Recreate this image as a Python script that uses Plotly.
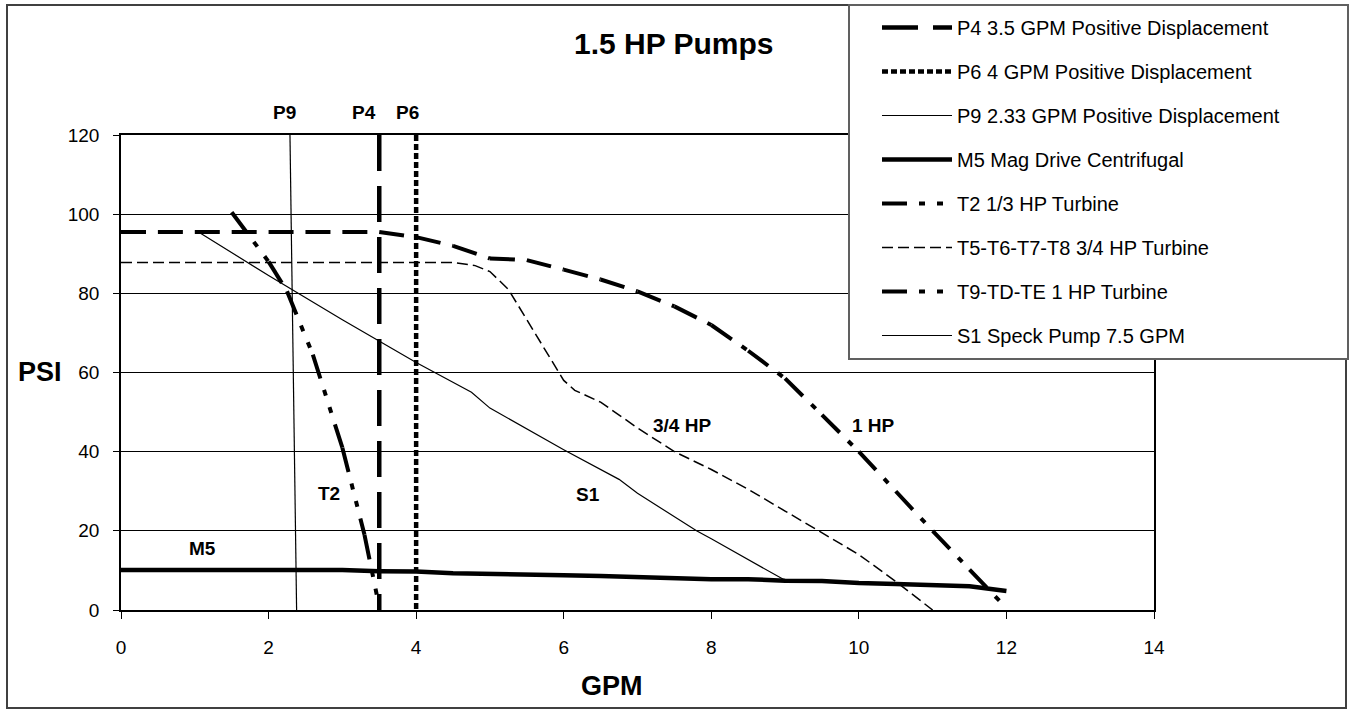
import plotly.graph_objects as go

# ---------------- data ----------------
x_ticks = [0, 2, 4, 6, 8, 10, 12, 14]
y_ticks = [0, 20, 40, 60, 80, 100, 120]

p4_x = [3.5, 3.5]
p4_y = [120, 0]

p6_x = [4.0, 4.0]
p6_y = [120, 0]

p9_x = [2.29, 2.38]
p9_y = [120, 0]

m5_x = [0, 0.5, 1, 1.5, 2, 2.5, 3, 3.5, 4, 4.5, 5, 5.5, 6, 6.5, 7, 7.5, 8, 8.5, 9, 9.5, 10, 10.5, 11, 11.5, 12]
m5_y = [10.1, 10.1, 10.1, 10.1, 10.1, 10.1, 10.1, 9.8, 9.7, 9.3, 9.2, 9.1, 8.8, 8.6, 8.3, 8.2, 7.8, 7.8, 7.4, 7.3, 6.8, 6.6, 6.3, 6.0, 4.8]

t2_x = [1.5, 2.0, 2.25, 2.6, 3.0, 3.3, 3.47]
t2_y = [100.5, 88, 80.5, 64.5, 41, 19, 3.5]

t5_x = [0, 4.5, 4.8, 5.0, 5.25, 5.9, 6.0, 6.15, 6.5, 7.0, 7.5, 8.0, 8.5, 9.0, 9.5, 10.0, 10.5, 11.0]
t5_y = [87.8, 87.8, 87, 85.5, 81, 61, 58, 55.5, 52.5, 46, 40, 35.5, 30.5, 25, 19.5, 14, 7.2, 0]

t9_x = [0, 0.5, 1, 1.5, 2, 2.5, 3, 3.5, 4, 4.5, 5, 5.5, 6, 6.5, 7, 7.5, 8, 8.5, 9, 9.5, 10, 10.5, 11, 11.5, 12]
t9_y = [95.5, 95.5, 95.5, 95.5, 95.5, 95.5, 95.5, 95.5, 94.2, 92, 88.8, 88.4, 86, 83.5, 80.5, 76.7, 72, 65.5, 58.5, 49.3, 40, 30, 20, 10.2, 0.5]

s1_x = [1.05, 2, 3, 4, 4.75, 5, 6, 6.75, 7, 7.8, 8, 9]
s1_y = [95.5, 84.5, 73.3, 62.5, 55, 51, 40.5, 33, 29.5, 20, 18, 7.5]

names = [
    "P4 3.5 GPM Positive Displacement",
    "P6 4 GPM Positive Displacement",
    "P9 2.33 GPM Positive Displacement",
    "M5 Mag Drive Centrifugal",
    "T2 1/3 HP Turbine",
    "T5-T6-T7-T8 3/4 HP Turbine",
    "T9-TD-TE 1 HP Turbine",
    "S1 Speck Pump 7.5 GPM",
]

# labels above the plot (paper y) and inside the plot (data y)
top_label_text = ["P9", "P4", "P6"]
top_label_x = [2.21, 3.29, 3.88]
in_label_text = ["M5", "T2", "S1", "3/4 HP", "1 HP"]
in_label_x = [1.1, 2.82, 6.33, 7.6, 10.2]
in_label_y = [15.6, 29.5, 29.3, 46.5, 46.7]

# ---------------- figure ----------------
W, H = 1351, 711
L, R, T, B = 121, 197, 135, 101
PW, PH = W - L - R, H - T - B


def px(xp):
    return (xp - L) / PW


def py(yp):
    return (H - B - yp) / PH


fig = go.Figure()
DDD = "25px,12px,6px,12px,6px,12px"


def add_line(x, y, name, group, width, dash, showlegend=True):
    fig.add_trace(go.Scatter(
        x=x, y=y, mode="lines", name=name, legendgroup=group,
        showlegend=showlegend, hoverinfo="skip",
        line=dict(color="black", width=width, dash=dash)))


def add_segmented(x, y, name, group, width, dash):
    # Excel restarts the dash pattern at each data point
    for i in range(len(x) - 1):
        add_line(x[i:i + 2], y[i:i + 2], name, group, width, dash, showlegend=(i == 0))


add_line(p4_x, p4_y, names[0], "g0", 4.5, "36px,15px")
add_line(p6_x, p6_y, names[1], "g1", 4.5, "6px,3px")
add_line(p9_x, p9_y, names[2], "g2", 1.2, "solid")
add_line(m5_x, m5_y, names[3], "g3", 4.5, "solid")
add_segmented(t2_x, t2_y, names[4], "g4", 4, DDD)
add_line(t5_x, t5_y, names[5], "g5", 1.5, "11px,5px")
add_segmented(t9_x, t9_y, names[6], "g6", 4, DDD)
add_line(s1_x, s1_y, names[7], "g7", 1.2, "solid")

for t, xx in zip(top_label_text, top_label_x):
    fig.add_annotation(x=xx, xref="x", y=py(113), yref="paper", text="<b>%s</b>" % t,
                       xanchor="center", yanchor="middle",
                       showarrow=False, font=dict(size=19, color="black"))
for t, xx, yy in zip(in_label_text, in_label_x, in_label_y):
    fig.add_annotation(x=xx, y=yy, text="<b>%s</b>" % t, showarrow=False,
                       xanchor="center", yanchor="middle",
                       font=dict(size=19, color="black"))

# title and axis titles
fig.add_annotation(xref="paper", yref="paper", x=px(674), y=py(43), text="<b>1.5 HP Pumps</b>",
                   xanchor="center", yanchor="middle",
                   showarrow=False, font=dict(size=30, color="black"))
fig.add_annotation(xref="paper", yref="paper", x=px(40), y=py(372), text="<b>PSI</b>",
                   xanchor="center", yanchor="middle",
                   showarrow=False, font=dict(size=27, color="black"))
fig.add_annotation(xref="paper", yref="paper", x=px(612), y=py(686), text="<b>GPM</b>",
                   xanchor="center", yanchor="middle",
                   showarrow=False, font=dict(size=27, color="black"))

# outer chart border
fig.add_shape(type="rect", xref="paper", yref="paper", x0=px(7), x1=px(1346), y0=py(708), y1=py(5),
              line=dict(color="#404040", width=2), fillcolor="rgba(0,0,0,0)", layer="below")
# legend box
fig.add_shape(type="rect", xref="paper", yref="paper", x0=px(849), x1=px(1348), y0=py(359), y1=py(5),
              line=dict(color="#606060", width=2), fillcolor="white", layer="above")

fig.update_layout(
    width=W, height=H,
    margin=dict(l=L, r=R, t=T, b=B, pad=0, autoexpand=False),
    paper_bgcolor="white", plot_bgcolor="white",
    font=dict(family="Liberation Sans, Arial, sans-serif", color="black", size=19),
    showlegend=True,
    legend=dict(x=px(877), y=py(8), xanchor="left", yanchor="top",
                bgcolor="rgba(0,0,0,0)", borderwidth=0,
                font=dict(size=20, color="black"),
                traceorder="grouped", tracegroupgap=15, itemwidth=70, maxheight=650),
    xaxis=dict(range=[0, 14], tickvals=x_ticks, ticktext=[str(v) for v in x_ticks],
               showgrid=False, zeroline=False, showline=True, linecolor="black", linewidth=1.5,
               mirror=True, ticks="outside", ticklen=7, tickcolor="black", tickwidth=1,
               tickfont=dict(size=19), ticklabelstandoff=12),
    yaxis=dict(range=[0, 120], tickvals=y_ticks, ticktext=[str(v) for v in y_ticks],
               showgrid=True, gridcolor="black", gridwidth=1, zeroline=False,
               showline=True, linecolor="black", linewidth=1.5, mirror=True,
               ticks="outside", ticklen=6, tickcolor="black", tickwidth=1,
               tickfont=dict(size=19), ticklabelstandoff=10),
)

fig.write_html("out.html", config={"displayModeBar": False})

# remove the browser's default page margin so the chart fills the window exactly
with open("out.html", "r", encoding="utf-8") as f:
    html = f.read()
html = html.replace("<body>", '<body style="margin:0;padding:0;overflow:hidden">', 1)
with open("out.html", "w", encoding="utf-8") as f:
    f.write(html)
